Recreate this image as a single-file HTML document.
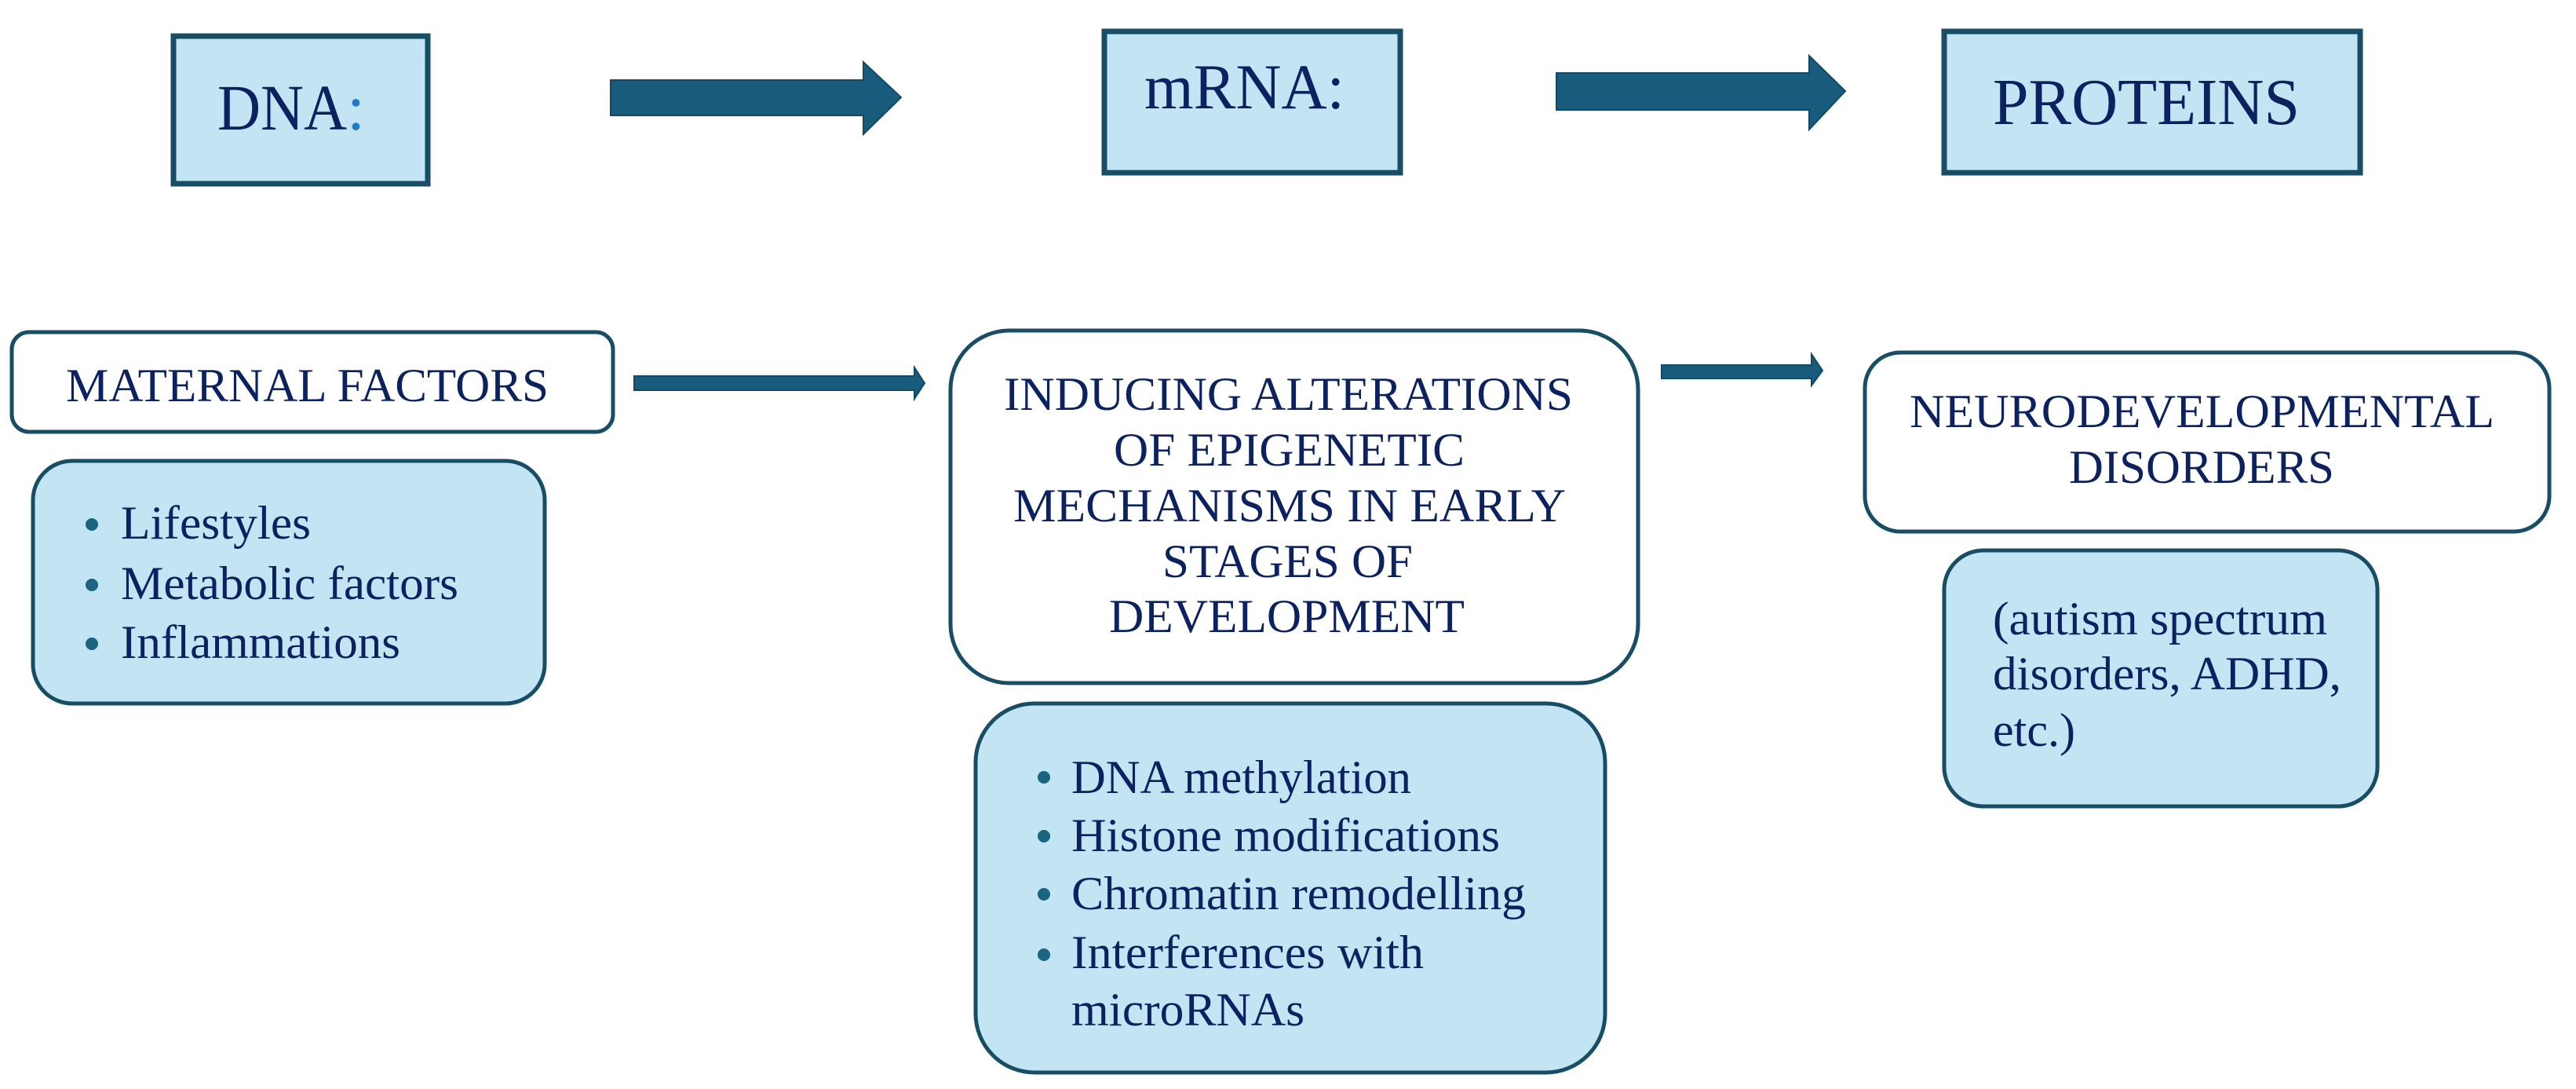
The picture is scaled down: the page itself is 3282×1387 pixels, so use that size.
<!DOCTYPE html>
<html><head><meta charset="utf-8"><style>html,body{margin:0;padding:0;background:#fff}svg{display:block}svg text{font-family:"Liberation Serif","Times New Roman",Times,serif}</style></head>
<body>
<svg width="3282" height="1387" viewBox="0 0 3282 1387" xmlns="http://www.w3.org/2000/svg" style="font-family:'Liberation Serif','Times New Roman',serif" fill="#0b2160">
<g stroke="#174e66" stroke-width="7">
<rect x="221" y="46" width="324" height="188" fill="#c2e4f3"/>
<rect x="1407" y="40" width="377" height="180" fill="#c2e4f3"/>
<rect x="2477" y="40" width="530" height="180" fill="#c2e4f3"/>
</g>
<g stroke="#174e66" stroke-width="5">
<rect x="15" y="423" width="766" height="127" rx="22" fill="#fff"/>
<rect x="42" y="587" width="652" height="309" rx="50" fill="#c2e4f3"/>
<rect x="1211" y="421" width="876" height="449" rx="75" fill="#fff"/>
<rect x="1243" y="896" width="802" height="470" rx="75" fill="#c2e4f3"/>
<rect x="2376" y="449" width="872" height="228" rx="45" fill="#fff"/>
<rect x="2477" y="701" width="552" height="326" rx="50" fill="#c2e4f3"/>
</g>
<g fill="#185b7c" stroke="#124a63" stroke-width="2">
<polygon points="778,102 1100,102 1100,79 1148,124 1100,171 1100,147 778,147"/>
<polygon points="1983,93 2305,93 2305,71 2351,116 2305,165 2305,140 1983,140"/>
<polygon points="808,479 1165,479 1165,468 1178,488 1165,508 1165,497 808,497"/>
<polygon points="2117,465 2308,465 2308,451 2322,472 2308,491 2308,482 2117,482"/>
</g>
<text x="277" y="165" font-size="83" textLength="165" lengthAdjust="spacingAndGlyphs">DNA</text>
<text x="442" y="165" font-size="83" fill="#1f7dc8">:</text>
<text x="1458" y="138" font-size="82" textLength="255" lengthAdjust="spacingAndGlyphs">mRNA:</text>
<text x="2539" y="158" font-size="84" textLength="391" lengthAdjust="spacingAndGlyphs">PROTEINS</text>
<text x="84" y="511" font-size="60" textLength="615" lengthAdjust="spacingAndGlyphs">MATERNAL FACTORS</text>
<g fill="#1b6580"><circle cx="117" cy="668" r="8"/><circle cx="117" cy="745" r="8"/><circle cx="117" cy="820" r="8"/>
<circle cx="1330" cy="990" r="8"/><circle cx="1330" cy="1065" r="8"/><circle cx="1330" cy="1139" r="8"/><circle cx="1330" cy="1216" r="8"/></g>
<g font-size="60">
<text x="154" y="686" textLength="242" lengthAdjust="spacingAndGlyphs">Lifestyles</text>
<text x="154" y="763" textLength="430" lengthAdjust="spacingAndGlyphs">Metabolic factors</text>
<text x="154" y="838" textLength="356" lengthAdjust="spacingAndGlyphs">Inflammations</text>
<text x="1279" y="522" textLength="725" lengthAdjust="spacingAndGlyphs">INDUCING ALTERATIONS</text>
<text x="1419" y="593" textLength="447" lengthAdjust="spacingAndGlyphs">OF EPIGENETIC</text>
<text x="1291" y="664" textLength="704" lengthAdjust="spacingAndGlyphs">MECHANISMS IN EARLY</text>
<text x="1481" y="735" textLength="319" lengthAdjust="spacingAndGlyphs">STAGES OF</text>
<text x="1413" y="805" textLength="453" lengthAdjust="spacingAndGlyphs">DEVELOPMENT</text>
<text x="1365" y="1010" textLength="433" lengthAdjust="spacingAndGlyphs">DNA methylation</text>
<text x="1365" y="1084" textLength="546" lengthAdjust="spacingAndGlyphs">Histone modifications</text>
<text x="1365" y="1158" textLength="579" lengthAdjust="spacingAndGlyphs">Chromatin remodelling</text>
<text x="1365" y="1233" textLength="449" lengthAdjust="spacingAndGlyphs">Interferences with</text>
<text x="1365" y="1306" textLength="297" lengthAdjust="spacingAndGlyphs">microRNAs</text>
<text x="2433" y="544" textLength="745" lengthAdjust="spacingAndGlyphs">NEURODEVELOPMENTAL</text>
<text x="2636" y="615" textLength="338" lengthAdjust="spacingAndGlyphs">DISORDERS</text>
<text x="2539" y="808" textLength="426" lengthAdjust="spacingAndGlyphs">(autism spectrum</text>
<text x="2539" y="878" textLength="444" lengthAdjust="spacingAndGlyphs">disorders, ADHD,</text>
<text x="2539" y="950" textLength="105" lengthAdjust="spacingAndGlyphs">etc.)</text>
</g>
</svg>
</body></html>
